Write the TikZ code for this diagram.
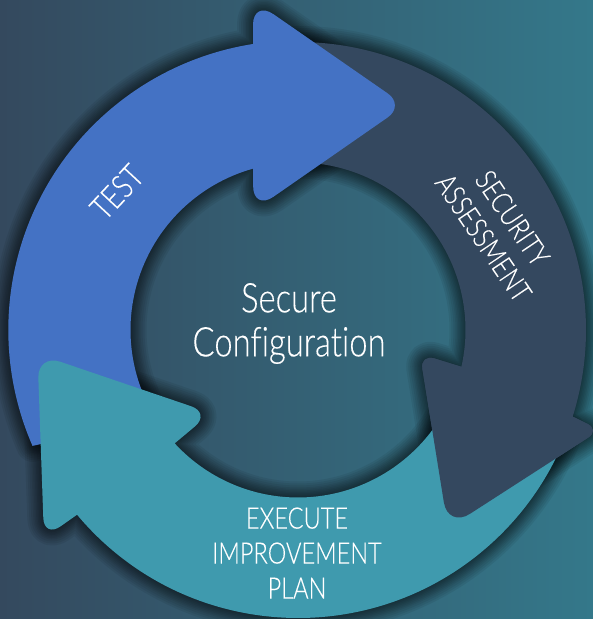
\documentclass[tikz,border=0pt]{standalone}
\usepackage{fontspec}
\usetikzlibrary{calc}
\newfontfamily\lblfont[FakeStretch=0.80,FakeBold=0.15,Ligatures=NoCommon]{Lato Light}
\definecolor{bluearrow}{HTML}{4472C4}
\definecolor{darkarrow}{HTML}{34485F}
\definecolor{tealarrow}{HTML}{3F9AAE}
\definecolor{bgleft}{HTML}{34495E}
\definecolor{bgright}{HTML}{34788A}
\begin{document}
\begin{tikzpicture}[x=1pt,y=1pt,
  lbl/.style={text=white,inner sep=0pt,align=center},
  centertext/.style={lbl,font=\lblfont\fontsize{41}{44}\selectfont},
  bandtext/.style={lbl,font=\lblfont\fontsize{29.5}{35}\selectfont},
  testtext/.style={lbl,font=\lblfont\fontsize{33}{35}\selectfont},
  glow/.style={draw=black,draw opacity=0.065,line join=round,fill=none}]
\useasboundingbox (0,0) rectangle (593,619);
\shade[left color=bgleft,right color=bgright] (0,0) rectangle (593,619);
\coordinate (c) at (298,289);
\def\bluearrow{(253,575) arc[start angle=98.9,end angle=203.6,radius=289.5]
  -- (41,175) -- ($(c)+(205:167.5)$) arc[start angle=205,end angle=105.5,radius=167.5]
  [rounded corners=25pt] -- (253,408) [rounded corners=21pt] -- (405,513.6) [rounded corners=25pt] -- (253,619)[sharp corners] -- cycle}
\def\darkcorners{[rounded corners=14pt] -- (600,189) [rounded corners=26pt] -- (448,91) [rounded corners=15pt] -- (420,265) [sharp corners]}
\def\darkbody{($(c)+(92:288)$) arc[start angle=92,end angle=-17.5,radius=288]
  \darkcorners
  -- ($(c)+(-12.7:167.5)$) arc[start angle=-12.7,end angle=92,radius=167.5] -- cycle}
\def\darkhead{($(c)+(-17.5:288)$) \darkcorners
  -- ($(c)+(-12.7:167.5)$) -- cycle}
\def\tealarrow{($(c)+(219.9:288)$) arc[start angle=219.9,end angle=340,radius=288]
  -- ($(c)+(335:167.5)$) arc[start angle=335,end angle=222.6,radius=167.5]
  [rounded corners=21pt] -- (211,206) [rounded corners=24pt] -- (37.5,265) [rounded corners=20pt] -- (44,81) [sharp corners] -- cycle}
\foreach \w in {32,28,24,20,17,14,11,8,5,2}{
  \draw[glow,line width=\w pt] \darkbody;
  \draw[glow,line width=\w pt] \bluearrow;
  \draw[glow,line width=\w pt] \tealarrow;
}
\fill[darkarrow] \darkbody;
\fill[bluearrow] \bluearrow;
\fill[tealarrow] \tealarrow;
\fill[darkarrow] \darkhead;
\node[centertext] (center) at (289,295.5) {Secure\\Configuration};
\node[testtext,rotate=47] (test) at (117,427) {TEST};
\node[bandtext,rotate=-56] (sec) at (498,391) {SECURITY\\ASSESSMENT};
\node[bandtext] (exec) at (297,66) {EXECUTE\\IMPROVEMENT\\PLAN};
\end{tikzpicture}
\end{document}
